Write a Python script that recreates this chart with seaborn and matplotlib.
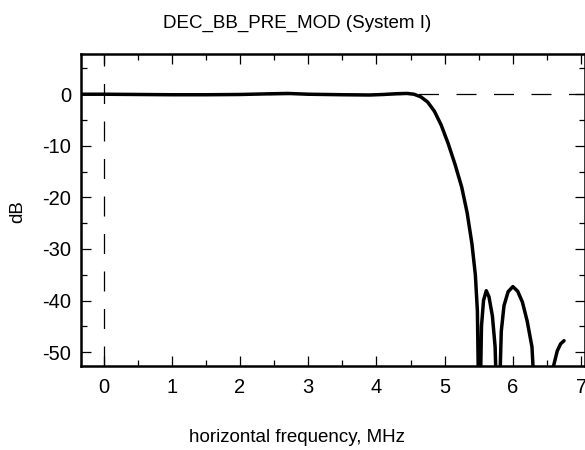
import numpy as np
import pandas as pd
import matplotlib
matplotlib.use("Agg")
import matplotlib.pyplot as plt
import seaborn as sns
from matplotlib.ticker import MultipleLocator

# Frequency response (MHz, dB)
freq_mhz = [-0.35, 0.0, 0.5, 1.0, 1.5, 2.0, 2.5, 2.7, 3.0, 3.5, 3.9, 4.1, 4.3,
            4.45, 4.55, 4.65, 4.75, 4.85, 4.95, 5.05, 5.15, 5.25, 5.33, 5.40,
            5.45, 5.48, 5.505,
            5.52, 5.54, 5.57, 5.61, 5.65, 5.70, 5.74, 5.775,
            5.80, 5.83, 5.87, 5.93, 6.00, 6.07, 6.14, 6.21, 6.28, 6.345,
            6.56, 6.60, 6.65, 6.70, 6.75]
gain_db = [0.0, 0.0, -0.05, -0.1, -0.1, -0.05, 0.1, 0.15, 0.0, -0.1, -0.15, -0.05, 0.1,
           0.15, 0.0, -0.5, -1.5, -3.3, -6.0, -9.5, -13.5, -18.0, -23.0, -29.0,
           -35.0, -42.0, -65.0,
           -60.0, -45.0, -40.0, -38.1, -39.3, -43.0, -49.0, -65.0,
           -60.0, -46.0, -41.0, -38.3, -37.3, -38.2, -40.3, -44.0, -49.0, -65.0,
           -60.0, -52.5, -49.8, -48.4, -47.8]

title = "DEC_BB_PRE_MOD (System I)"
x_label = "horizontal frequency, MHz"
y_label = "dB"

df = pd.DataFrame({"freq": freq_mhz, "db": gain_db})

sns.set_theme(style="white")
plt.rcParams["font.family"] = ["Liberation Sans", "DejaVu Sans"]
plt.rcParams["axes.unicode_minus"] = False

fig = plt.figure(figsize=(5.85, 4.5), dpi=100, facecolor="white")
ax = fig.add_axes([81 / 585, 1 - 366 / 450, 503.5 / 585, 312 / 450])

# reference lines at 0 dB and 0 MHz
ax.axhline(0, color="black", lw=0.9, dashes=(16, 14), zorder=1)
ax.axvline(0, color="black", lw=0.9, dashes=(16, 14), zorder=1)

sns.lineplot(data=df, x="freq", y="db", ax=ax, sort=False, color="black",
             lw=2.5, zorder=3)

ax.set_xlim(-0.33, 7.05)
ax.set_ylim(-52.7, 7.8)
ax.xaxis.set_major_locator(MultipleLocator(1))
ax.xaxis.set_minor_locator(MultipleLocator(0.5))
ax.yaxis.set_major_locator(MultipleLocator(10))
ax.yaxis.set_minor_locator(MultipleLocator(5))

ax.tick_params(which="both", direction="in", top=True, right=True,
               bottom=True, left=True, color="black", labelsize=14.5,
               labelcolor="black")
ax.tick_params(which="major", length=7.5, width=0.9)
ax.tick_params(which="minor", length=4, width=0.9)
ax.tick_params(axis="x", which="major", pad=8.5)
ax.tick_params(axis="y", which="major", pad=7)

for side in ["left", "bottom", "top", "right"]:
    ax.spines[side].set_color("black")
    ax.spines[side].set_linewidth(1.8)

ax.set_xlabel("")
ax.set_ylabel("")
ax.grid(False)

# text placed like the reference (centred left of the axes centre)
fig.text(297 / 585, 1 - 28 / 450, title, fontsize=13.5, ha="center",
         va="baseline", color="black")
fig.text(297 / 585, 1 - 442 / 450, x_label, fontsize=13.5, ha="center",
         va="baseline", color="black")
fig.text(18 / 585, 1 - 212 / 450, y_label, fontsize=13.5, ha="center",
         va="center", rotation=90, color="black")

fig.savefig("out.png", dpi=100)
